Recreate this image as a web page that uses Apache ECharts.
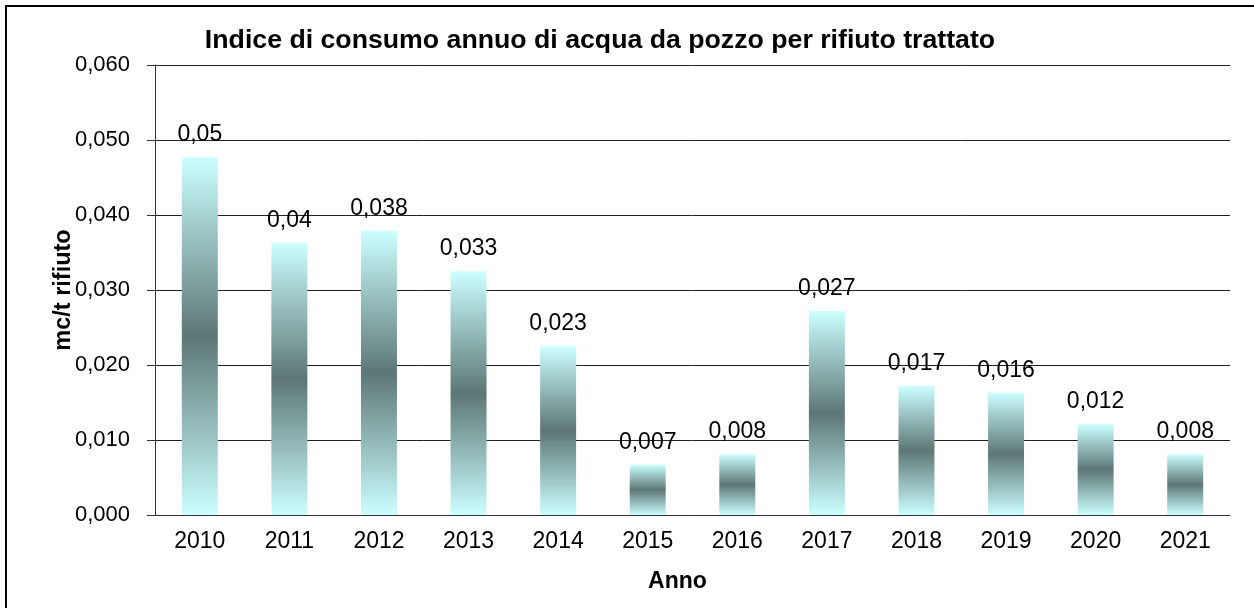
<!DOCTYPE html>
<html>
<head>
<meta charset="utf-8">
<script src="https://cdn.jsdelivr.net/npm/echarts@6/dist/echarts.min.js"></script>
<style>
  html, body { margin: 0; padding: 0; background: #fff; }
  #chart { width: 1254px; height: 608px; }
</style>
</head>
<body>
<div id="chart"></div>
<script>
const anni = ['2010', '2011', '2012', '2013', '2014', '2015', '2016', '2017', '2018', '2019', '2020', '2021'];
const indice = [0.0477, 0.0363, 0.0379, 0.0325, 0.0225, 0.0067, 0.0081, 0.0272, 0.0172, 0.0163, 0.0121, 0.0081];
const etichette = ['0,05', '0,04', '0,038', '0,033', '0,023', '0,007', '0,008', '0,027', '0,017', '0,016', '0,012', '0,008'];

const font = 'Liberation Sans, Arial, sans-serif';

const barColor = new echarts.graphic.LinearGradient(0, 0, 0, 1, [
    { offset: 0, color: '#ccffff' },
    { offset: 0.5, color: '#5c7775' },
    { offset: 1, color: '#ccffff' }
]);

const chart = echarts.init(document.getElementById('chart'));
chart.setOption({
    animation: false,
    title: {
        text: 'Indice di consumo annuo di acqua da pozzo per rifiuto trattato',
        left: 595,
        textAlign: 'center',
        top: 22,
        textStyle: { fontFamily: font, fontSize: 26.7, fontWeight: 'bold', color: '#000' }
    },
    graphic: [{
        type: 'rect',
        shape: { x: 6, y: 6, width: 1260, height: 620 },
        style: { fill: 'none', stroke: '#000', lineWidth: 2 },
        silent: true
    }],
    grid: { left: 155, right: 24, top: 65, bottom: 93 },
    xAxis: {
        type: 'category',
        data: anni,
        name: 'Anno',
        nameLocation: 'middle',
        nameGap: 55,
        nameMoveOverlap: false,
        nameTextStyle: { fontFamily: font, fontSize: 23, fontWeight: 'bold', color: '#000', padding: [0, 30, 0, 0] },
        axisLine: { lineStyle: { color: '#333', width: 1 } },
        axisTick: { length: 7, lineStyle: { color: '#333' } },
        axisLabel: { fontFamily: font, fontSize: 23, color: '#000', margin: 15 }
    },
    yAxis: {
        type: 'value',
        min: 0,
        max: 0.06,
        interval: 0.01,
        name: 'mc/t rifiuto',
        nameLocation: 'middle',
        nameGap: 79,
        nameRotate: 90,
        nameMoveOverlap: false,
        nameTextStyle: { fontFamily: font, fontSize: 23.5, fontWeight: 'bold', color: '#000' },
        axisLine: { show: true, lineStyle: { color: '#333', width: 1 } },
        axisTick: { show: true, length: 8, lineStyle: { color: '#333' } },
        axisLabel: {
            fontFamily: font, fontSize: 22, color: '#000', margin: 25,
            formatter: v => v.toFixed(3).replace('.', ',')
        },
        splitLine: { lineStyle: { color: '#222', width: 1 } }
    },
    series: [{
        type: 'bar',
        data: indice,
        barWidth: 36,
        itemStyle: { color: barColor },
        label: {
            show: true,
            position: 'top',
            distance: 11,
            fontFamily: font,
            fontSize: 23,
            color: '#000',
            formatter: p => etichette[p.dataIndex]
        }
    }]
});
</script>
</body>
</html>
